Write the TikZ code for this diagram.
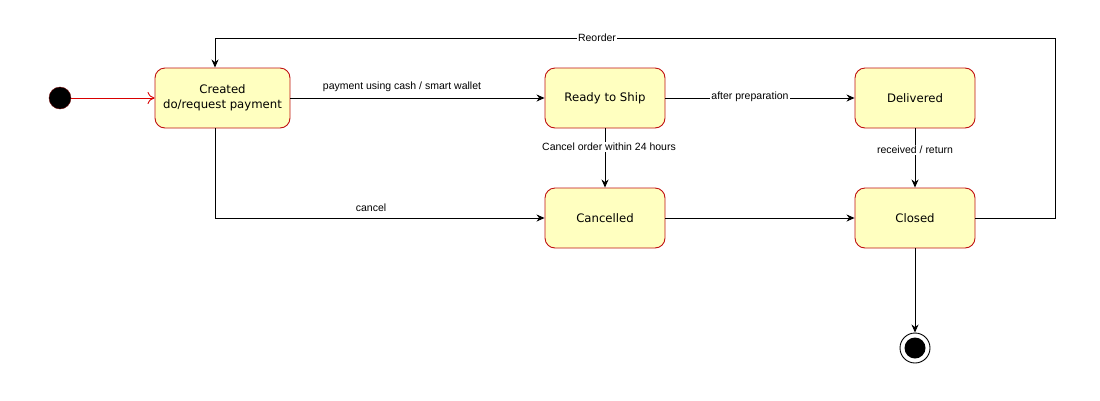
\documentclass[tikz,border=0pt]{standalone}
\usepackage{fontspec}
\setmainfont{Liberation Sans}
\newfontfamily\boxfont{DejaVu Sans}
\usetikzlibrary{arrows.meta,calc}
\definecolor{stfill}{HTML}{FFFFC0}
\definecolor{ststroke}{HTML}{C01010}
\begin{document}
\begin{tikzpicture}[x=1pt,y=-1pt,
  state/.style={draw=ststroke,fill=stfill,rounded corners=10pt,minimum height=60pt,
    line width=0.9pt,font=\boxfont\fontsize{11.7}{14.5}\selectfont,align=center,inner sep=0pt},
  conn/.style={draw=black,line width=0.9pt,-{Stealth[length=8pt,width=7pt,inset=2.5pt]}},
  lbl/.style={font=\fontsize{10.5}{12}\selectfont,inner sep=1pt},
  lblw/.style={lbl,fill=white}]
\useasboundingbox (0,0) rectangle (1100,400);
% states
\node[state,minimum width=135pt] (created) at (222.5,98) {Created\\do/request payment};
\node[state,minimum width=120pt] (ready) at (605,98) {Ready to Ship};
\node[state,minimum width=120pt] (delivered) at (915,98) {Delivered};
\node[state,minimum width=120pt] (cancelled) at (605,218) {Cancelled};
\node[state,minimum width=120pt] (closed) at (915,218) {Closed};
% initial and final
\node[circle,fill=black,draw=ststroke!60!black,minimum size=22pt,inner sep=0pt] (init) at (60,98) {};
\node[circle,draw=black,fill=white,line width=0.9pt,minimum size=30pt,inner sep=0pt] (final) at (915,348) {};
\node[circle,fill=black,minimum size=21pt,inner sep=0pt] (finalin) at (915,348) {};
% helper coordinates
\coordinate (cx) at (215,0);
\coordinate (r1) at (1055,38);
% connectors
\draw[draw=red!85!black,line width=0.9pt,-{To[length=7pt,width=12pt]}] (init) -- (created.west);
\draw[conn] (created.east) -- (ready.west);
\node[lbl] (l1) at (402,87) {payment using cash / smart wallet};
\draw[conn] (ready.east) -- (delivered.west);
\node[lblw] (l2) at (750,97) {after preparation};
\draw[conn] (ready.south) -- (cancelled.north);
\node[lblw] (l3) at (609,147) {Cancel order within 24 hours};
\draw[conn] (delivered.south) -- (closed.north);
\node[lblw] (l4) at (915,150) {received / return};
\draw[conn] (created.south -| cx) |- (cancelled.west);
\node[lbl] (l5) at (371,208) {cancel};
\draw[conn] (cancelled.east) -- (closed.west);
\draw[conn] (closed.south) -- (final.north);
\draw[conn] (closed.east) -| (r1) -| (created.north -| cx);
\node[lblw] (l6) at (597,38) {Reorder};
\end{tikzpicture}
\end{document}
